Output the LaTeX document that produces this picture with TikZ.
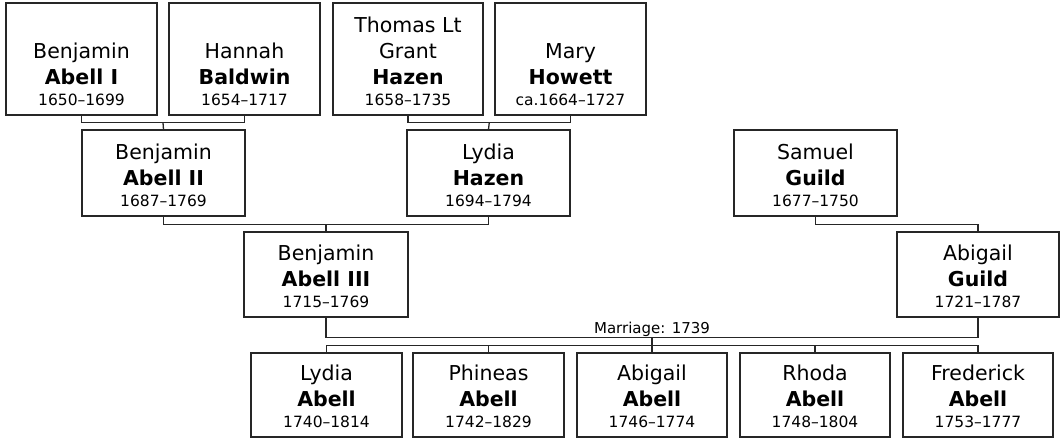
\documentclass[tikz,border=0pt]{standalone}
\usepackage{fontspec}
\setmainfont{DejaVu Sans}
\usetikzlibrary{calc}
\tikzset{
  pbox/.style={draw=black!85, line width=1.3pt, fill=white, inner sep=0pt, rectangle},
  fn/.style={inner sep=0pt, anchor=base, font=\fontsize{20.5}{24}\selectfont},
  sn/.style={inner sep=0pt, anchor=base, font=\fontsize{20.5}{24}\selectfont\bfseries},
  dt/.style={inner sep=0pt, anchor=base, font=\fontsize{15.5}{18}\selectfont},
  lbl/.style={inner sep=0pt, anchor=base, font=\fontsize{15}{18}\selectfont},
  link/.style={draw=black!85, line width=1.3pt}
}
% #1 id, #2 left, #3 top, #4 right, #5 bottom, #6 extra top line, #7 first name, #8 surname, #9 dates
\newcommand\person[9]{%
  \node[pbox, minimum width={(#4-#2)*1pt}, minimum height={(#5-#3)*1pt}] (#1) at ({(#2+#4)/2},{(#3+#5)/2}) {};
  \node[fn] (#1-x) at ({(#2+#4)/2},{#5-83}) {#6};
  \node[fn] (#1-f) at ({(#2+#4)/2},{#5-57}) {#7};
  \node[sn] (#1-s) at ({(#2+#4)/2},{#5-31}) {#8};
  \node[dt] (#1-d) at ({(#2+#4)/2},{#5-10}) {#9};
}
\begin{document}
\begin{tikzpicture}[x=1pt,y=-1pt]
\useasboundingbox (0,0) rectangle (1062,440);
% row 1
\person{bA1}{6}{3}{157}{115}{}{Benjamin}{Abell I}{1650–1699}
\person{hB}{169}{3}{320}{115}{}{Hannah}{Baldwin}{1654–1717}
\person{tH}{333}{3}{483}{115}{Thomas Lt}{Grant}{Hazen}{1658–1735}
\person{mH}{495}{3}{646}{115}{}{Mary}{Howett}{ca.1664–1727}
% row 2
\person{bA2}{82}{130}{245}{216}{}{Benjamin}{Abell II}{1687–1769}
\person{lH}{407}{130}{570}{216}{}{Lydia}{Hazen}{1694–1794}
\person{sG}{734}{130}{897}{216}{}{Samuel}{Guild}{1677–1750}
% row 3
\person{bA3}{244}{232}{408}{317}{}{Benjamin}{Abell III}{1715–1769}
\person{aG}{897}{232}{1059}{317}{}{Abigail}{Guild}{1721–1787}
% children
\person{lA}{251}{353}{402}{437}{}{Lydia}{Abell}{1740–1814}
\person{pA}{413}{353}{564}{437}{}{Phineas}{Abell}{1742–1829}
\person{aA}{577}{353}{727}{437}{}{Abigail}{Abell}{1746–1774}
\person{rA}{740}{353}{890}{437}{}{Rhoda}{Abell}{1748–1804}
\person{fA}{903}{353}{1053}{437}{}{Frederick}{Abell}{1753–1777}
% connectors
\coordinate (c1) at ($(bA1.south)!0.5!(hB.south)+(0,7)$);
\draw[link] (bA1.south) -- ++(0,7) -| (hB.south);
\draw[link] (c1) -- (bA2.north);
\coordinate (c2) at ($(tH.south)!0.5!(mH.south)+(0,7)$);
\draw[link] (tH.south) -- ++(0,7) -| (mH.south);
\draw[link] (c2) -- (lH.north);
\coordinate (c3) at ($(bA2.south)!0.5!(lH.south)+(0,8)$);
\draw[link] (bA2.south) -- ++(0,8) -| (lH.south);
\draw[link] (c3) -- (bA3.north);
\draw[link] (sG.south) -- ++(0,8) -| (aG.north);
\coordinate (c4) at ($(bA3.south)!0.5!(aG.south)+(0,20)$);
\draw[link] (bA3.south) -- ++(0,20) -| (aG.south);
\node[lbl] (mar) at ($(c4)+(0,-4)$) {Marriage: 1739};
\coordinate (bar) at ($(c4)+(0,9)$);
\draw[link] (c4) -- (bar);
\draw[link] (lA.north) -- ++(0,-7) -| (fA.north);
\draw[link] (pA.north) -- ++(0,-7);
\draw[link] (aA.north) -- ++(0,-7);
\draw[link] (rA.north) -- ++(0,-7);
\end{tikzpicture}
\end{document}
